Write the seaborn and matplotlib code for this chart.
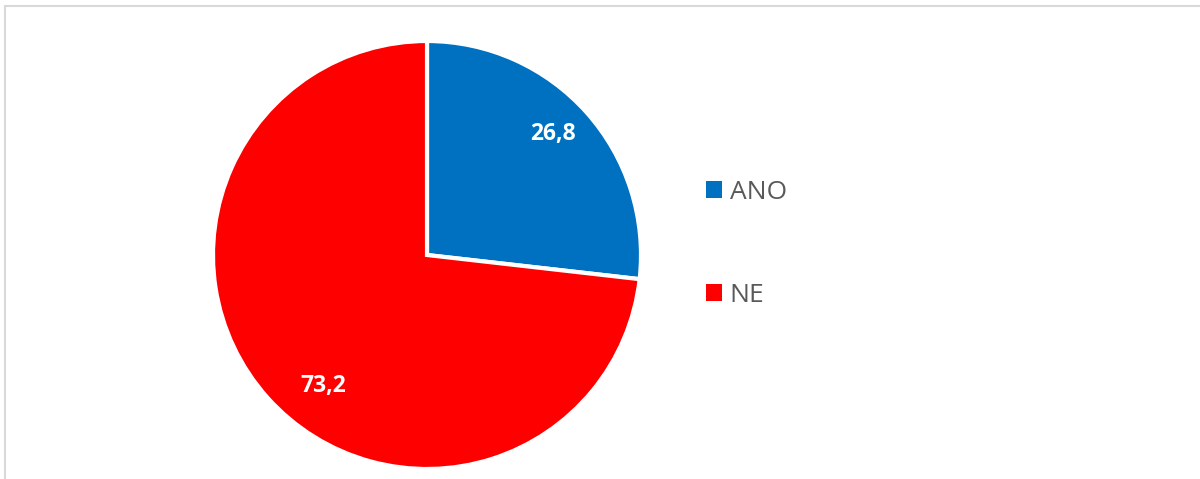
import matplotlib
matplotlib.use("Agg")
import matplotlib.pyplot as plt
import seaborn as sns
from matplotlib.patches import Patch, Rectangle

categories = ["ANO", "NE"]
values = [26.8, 73.2]
value_labels = ["26,8", "73,2"]
colors = ["#0070C0", "#FF0000"]
label_pos = [(0.59, 0.565), (-0.487, -0.612)]

sns.set_theme(style="white")
plt.rcParams['font.family'] = ['Open Sans', 'DejaVu Sans']

W, H = 1200, 479
fig = plt.figure(figsize=(W / 100, H / 100), dpi=100)

# outer frame
fig.patches.append(Rectangle((4.5 / W, -0.1), 1.2, 1 - 6 / H + 0.1, transform=fig.transFigure,
                             fill=False, edgecolor="#D9D9D9", linewidth=1.5))

cx, cy, r = 427, 255, 214
ax = fig.add_axes([(cx - r) / W, (H - cy - r) / H, 2 * r / W, 2 * r / H])
wedges, _ = ax.pie(values, colors=colors, startangle=90, counterclock=False,
                   wedgeprops=dict(edgecolor="white", linewidth=3))
ax.set_xlim(-1, 1)
ax.set_ylim(-1, 1)
ax.axis("off")

for (x, y), lab in zip(label_pos, value_labels):
    ax.text(x, y, lab, ha="center", va="center",
            color="white", fontsize=16.5, fontweight="bold")

handles = [Patch(facecolor=c, edgecolor="none") for c in colors]
fig.legend(handles, categories, loc="center left", bbox_to_anchor=(682 / W, 1 - 244 / H),
           frameon=False, fontsize=19, labelcolor="#595959", handlelength=0.6,
           handleheight=0.6, handletextpad=0.3, labelspacing=2.95)

fig.savefig("out.png", dpi=100)
